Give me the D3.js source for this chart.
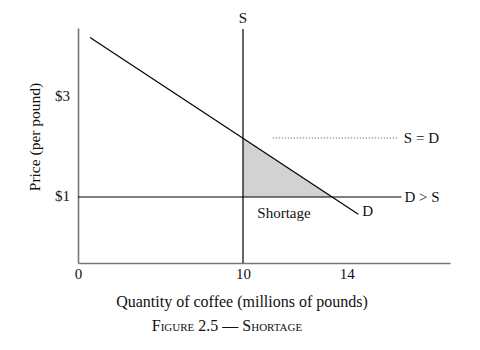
<!DOCTYPE html>
<html>
<head>
<meta charset="utf-8">
<script src="https://cdn.jsdelivr.net/npm/d3@7"></script>
<style>
  html, body { margin: 0; padding: 0; background: #fff; }
  svg { display: block; font-family: "Liberation Serif", "DejaVu Serif", serif; }
</style>
</head>
<body>
<svg id="chart" width="480" height="350"></svg>
<script>
// ---- data ----
const xTicks = [0, 10, 14];
const yTicks = [1, 3];
const supplyQ = [10, 10];
const supplyP = [0, 4.36];
const demandQ = [0.73, 14.45];
const demandP = [4.19, 0.74];
const ceilingQ = [0, 16.12];
const ceilingP = [1, 1];
const equilQ = [11.15, 16.02];
const equilP = [2.18, 2.18];
const shortageQ = [10, 10, 13.45];
const shortageP = [2.18, 1, 1];

const svg = d3.select("#chart");
const x = d3.scaleLinear().domain([0, 10, 14, 18]).range([78, 243, 346.7, 450]);
const y = d3.scaleLinear().domain([0, 1, 3, 4.38]).range([263, 197, 97, 28]);

const line = d3.line().x(d => x(d[0])).y(d => y(d[1]));
const zip = (a, b) => a.map((v, i) => [v, b[i]]);

// shaded shortage area
svg.append("path")
  .attr("d", line(zip(shortageQ, shortageP)) + "Z")
  .attr("fill", "#d2d2d2").attr("stroke", "none");

// axes
const xAxis = svg.append("g").attr("transform", `translate(0,${y(0)})`)
  .call(d3.axisBottom(x).tickValues(xTicks).tickSize(0).tickPadding(5).tickFormat(d3.format("d")));
const yAxis = svg.append("g").attr("transform", `translate(${x(0)},0)`)
  .call(d3.axisLeft(y).tickValues(yTicks).tickSize(0).tickPadding(8).tickFormat(d => "$" + d));
[xAxis, yAxis].forEach(g => {
  g.select(".domain").attr("stroke", "#777").attr("stroke-width", 1.6);
  g.selectAll("text").attr("font-family", "Liberation Serif, serif").attr("font-size", 15).attr("fill", "#111");
});
yAxis.selectAll(".tick text").attr("dy", "0.2em");

// curves
svg.append("path").attr("d", line(zip(supplyQ, supplyP))).attr("stroke", "#000").attr("stroke-width", 1.2).attr("fill", "none");
svg.append("path").attr("d", line(zip(ceilingQ, ceilingP))).attr("stroke", "#000").attr("stroke-width", 1.2).attr("fill", "none");
svg.append("path").attr("d", line(zip(demandQ, demandP))).attr("stroke", "#000").attr("stroke-width", 1.2).attr("fill", "none");
svg.append("path").attr("d", line(zip(equilQ, equilP))).attr("stroke", "#555").attr("stroke-width", 1).attr("stroke-dasharray", "1,2").attr("fill", "none");

// labels
const lab = (t, px, py, anchor) => svg.append("text").attr("x", px).attr("y", py)
  .attr("text-anchor", anchor).attr("font-size", 15).attr("fill", "#111").text(t);
lab("S", x(supplyQ[1]), y(supplyP[1]) - 6, "middle");
lab("S = D", x(equilQ[1]) + 5, y(equilP[1]) + 5, "start");
lab("D > S", x(ceilingQ[1]) + 3, y(ceilingP[1]) + 5, "start");
lab("D", x(demandQ[1]) + 4, y(demandP[1]) + 2, "start");
lab("Shortage", x(shortageQ[0]) + 41, y(shortageP[1]) + 21, "middle");

// axis titles
svg.append("text").attr("x", 242).attr("y", 307).attr("text-anchor", "middle")
  .attr("font-size", 16).attr("fill", "#111").text("Quantity of coffee (millions of pounds)");
svg.append("text").attr("transform", "translate(40,137) rotate(-90)").attr("text-anchor", "middle")
  .attr("font-size", 15.5).attr("fill", "#111").text("Price (per pound)");
svg.append("text").attr("x", 227).attr("y", 331).attr("text-anchor", "middle")
  .attr("font-size", 16).attr("fill", "#111").style("font-variant", "small-caps").text("Figure 2.5 — Shortage");
</script>
</body>
</html>
